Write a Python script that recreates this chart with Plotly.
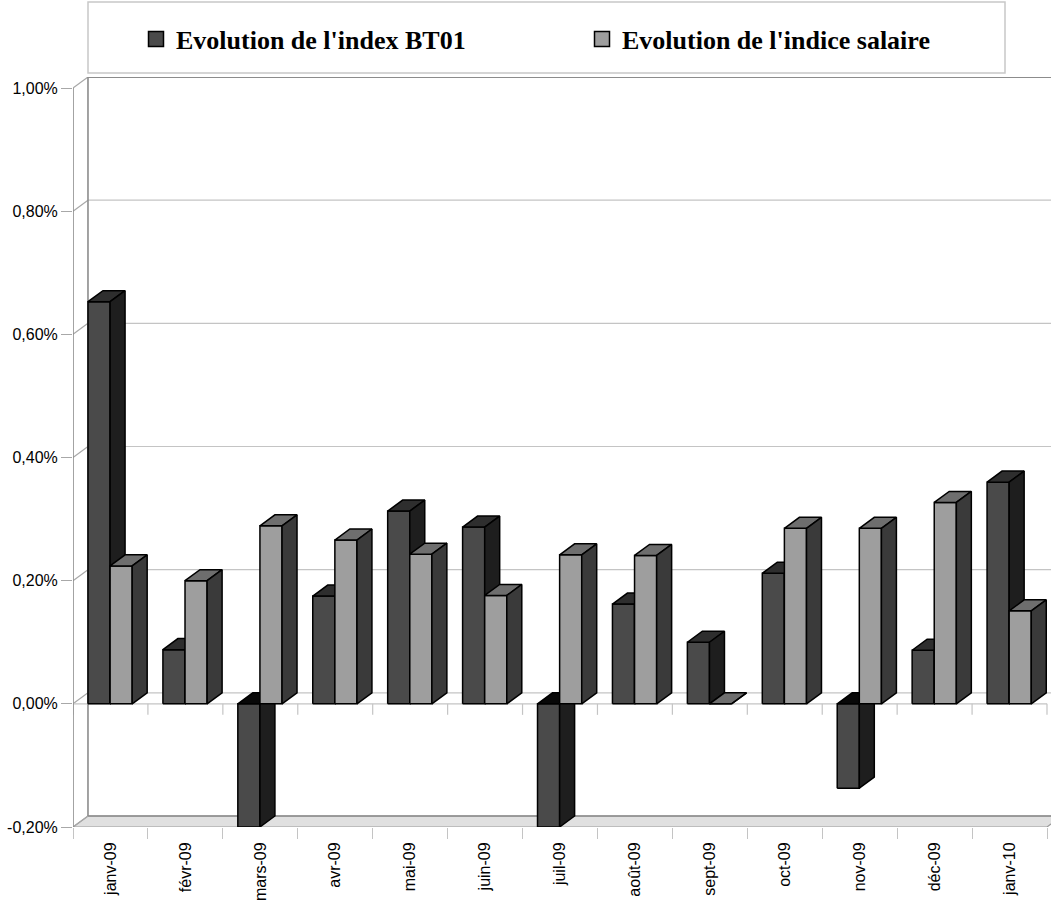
import numpy as np
import plotly.graph_objects as go

# ---------------- data ----------------
categories = ["janv-09", "févr-09", "mars-09", "avr-09", "mai-09", "juin-09", "juil-09",
              "août-09", "sept-09", "oct-09", "nov-09", "déc-09", "janv-10"]
bt01 = [0.653, 0.088, -0.20, 0.175, 0.313, 0.287, -0.20, 0.162, 0.10, 0.212, -0.137, 0.087, 0.360]
salaire = [0.224, 0.200, 0.289, 0.266, 0.243, 0.176, 0.242, 0.241, 0.0, 0.285, 0.285, 0.327, 0.151]
series_names = ["Evolution de l'index BT01", "Evolution de l'indice salaire"]
y_tickvals = [-0.2, 0.0, 0.2, 0.4, 0.6, 0.8, 1.0]
y_ticktext = ["-0,20%", "0,00%", "0,20%", "0,40%", "0,60%", "0,80%", "1,00%"]

# ---------------- style / geometry ----------------
DX = 0.2        # depth offset, category units
DY = 0.0179     # depth offset, value units
BAR_W = 0.295
OFFSETS = [0.2, 0.2 + BAR_W]
COLORS = [
    dict(front="#4a4a4a", top="#2e2e2e", top_neg="#080808", side="#1e1e1e", legend="#4a4a4a"),
    dict(front="#9e9e9e", top="#6e6e6e", top_neg="#080808", side="#3a3a3a", legend="#9e9e9e"),
]
n = len(categories)
XMAX = (1051 - 73) / ((1047 - 73) / n)
YMIN, YMAX = y_tickvals[0], y_tickvals[-1] + DY
FONT = "Liberation Sans, Arial, sans-serif"


def bar_faces(values, off):
    fx, fy, tx, ty, nx, ny, sx, sy = [], [], [], [], [], [], [], []
    for i, v in enumerate(values):
        x0 = i + off
        x1 = x0 + BAR_W
        yt, yb = max(v, 0.0), min(v, 0.0)
        fx += [x0, x1, x1, x0, x0, None]
        fy += [yb, yb, yt, yt, yb, None]
        px = [x0, x1, x1 + DX, x0 + DX, x0, None]
        py = [yt, yt, yt + DY, yt + DY, yt, None]
        if v < 0:
            nx += px; ny += py
        else:
            tx += px; ty += py
        sx += [x1, x1 + DX, x1 + DX, x1, x1, None]
        sy += [yb, yb + DY, yt + DY, yt, yb, None]
    return (fx, fy), (tx, ty), (nx, ny), (sx, sy)


fig = go.Figure()

for s, vals in enumerate([bt01, salaire]):
    front, top, topn, side = bar_faces(vals, OFFSETS[s])
    c = COLORS[s]
    for (xs, ys), col in [(front, c["front"]), (top, c["top"]), (topn, c["top_neg"]), (side, c["side"])]:
        if not xs:
            continue
        fig.add_trace(go.Scatter(
            x=xs, y=ys, mode="lines", fill="toself", fillcolor=col,
            line=dict(color="#000000", width=1.5), hoverinfo="skip",
            showlegend=False, name=series_names[s]))

# legend entries
for s, name in enumerate(series_names):
    fig.add_trace(go.Scatter(
        x=[None], y=[None], mode="markers", name=name,
        marker=dict(symbol="square", size=15, color=COLORS[s]["legend"],
                    line=dict(color="#000000", width=1.5))))

shapes = []
# floor
shapes.append(dict(type="path", xref="x", yref="y", layer="below",
                   path=f"M 0,{YMIN} L {n},{YMIN} L {n + DX},{YMIN + DY} L {DX},{YMIN + DY} Z",
                   fillcolor="#e0e0e0", line=dict(color="#9a9a9a", width=1.2)))
# back gridlines and diagonal connectors
for v in y_tickvals:
    if v == y_tickvals[-1]:
        col, w = "#8c8c8c", 2.2
    elif v == y_tickvals[0]:
        col, w = "#8c8c8c", 1.6
    else:
        col, w = "#c4c4c4", 1.2
    shapes.append(dict(type="line", xref="x", yref="y", layer="below",
                       x0=DX, x1=XMAX + 1, y0=v + DY, y1=v + DY, line=dict(color=col, width=w)))
    shapes.append(dict(type="line", xref="x", yref="y", layer="below",
                       x0=0, x1=DX, y0=v, y1=v + DY, line=dict(color="#a8a8a8", width=1.2)))
# front zero line + hanging ticks
shapes.append(dict(type="line", xref="x", yref="y", layer="below",
                   x0=0, x1=n, y0=0, y1=0, line=dict(color="#c4c4c4", width=1.2)))
for k in range(n + 1):
    shapes.append(dict(type="line", xref="x", yref="y", layer="below",
                       x0=k, x1=k, y0=0, y1=-DY, line=dict(color="#c4c4c4", width=1.2)))
# left wall
shapes.append(dict(type="line", xref="x", yref="y", layer="below",
                   x0=0, x1=0, y0=YMIN, y1=y_tickvals[-1], line=dict(color="#8c8c8c", width=1.6)))
shapes.append(dict(type="line", xref="x", yref="y", layer="below",
                   x0=DX, x1=DX, y0=YMIN + DY, y1=YMAX, line=dict(color="#8c8c8c", width=1.6)))
# legend box
shapes.append(dict(type="rect", xref="paper", yref="paper", layer="below",
                   x0=(88 - 73) / 978, x1=(1005 - 73) / 978, y0=(827 - 73) / 750, y1=(827 - 2) / 750,
                   fillcolor="#ffffff", line=dict(color="#c8c8c8", width=1.5)))

fig.update_layout(
    width=1051, height=903, autosize=False,
    margin=dict(l=73, r=0, t=77, b=76, pad=0),
    paper_bgcolor="#ffffff", plot_bgcolor="#ffffff",
    shapes=shapes,
    showlegend=True,
    legend=dict(orientation="h", x=(136 - 73) / 978, xanchor="left",
                y=(827 - 39) / 750, yanchor="middle",
                bgcolor="rgba(0,0,0,0)", borderwidth=0,
                entrywidth=401, entrywidthmode="pixels",
                font=dict(family="Liberation Serif, Times New Roman, serif", size=26,
                          color="#000000", weight="bold")),
    xaxis=dict(range=[0, XMAX], showgrid=False, zeroline=False, showline=False,
               tickmode="array", tickvals=list(np.arange(n) + 0.5), ticktext=categories,
               tickangle=-90, ticks="outside", ticklen=8, tickcolor="rgba(0,0,0,0)",
               tickfont=dict(family=FONT, size=16, color="#000000"),
               minor=dict(tickmode="array", tickvals=list(range(n + 1)), ticks="outside",
                          ticklen=11, tickcolor="#c4c4c4", tickwidth=1.2, showgrid=False),
               automargin=False, fixedrange=True),
    yaxis=dict(range=[YMIN, YMAX], showgrid=False, zeroline=False, showline=False,
               tickmode="array", tickvals=y_tickvals, ticktext=y_ticktext,
               ticks="outside", ticklen=11, tickcolor="#a8a8a8", tickwidth=1.2,
               tickfont=dict(family=FONT, size=16, color="#000000"),
               automargin=False, fixedrange=True),
)

fig.write_html("out.html", config={"displayModeBar": False},
               post_script="document.body.style.margin='0px';document.body.style.overflow='hidden';")
